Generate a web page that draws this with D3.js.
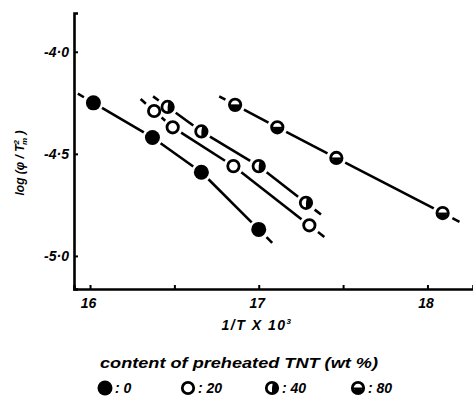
<!DOCTYPE html>
<html>
<head>
<meta charset="utf-8">
<script src="https://cdn.jsdelivr.net/npm/d3@7"></script>
<style>
body{margin:0;background:#fff;}
text{font-family:"Liberation Sans",Arial,sans-serif;font-style:italic;font-weight:bold;fill:#000;}
</style>
</head>
<body>
<div id="chart"></div>
<script>
// data
var tntContent=["0","20","40","80"];
var invT0=[16.02,16.37,16.66,17.0];
var logPhi0=[-4.25,-4.42,-4.59,-4.87];
var invT20=[16.38,16.49,16.85,17.30];
var logPhi20=[-4.29,-4.37,-4.56,-4.85];
var invT40=[16.46,16.66,17.0,17.28];
var logPhi40=[-4.27,-4.39,-4.56,-4.74];
var invT80=[16.86,17.11,17.46,18.09];
var logPhi80=[-4.26,-4.37,-4.52,-4.79];
var xTicks=[16,16.5,17,17.5,18];
var yTicks=[-4.0,-4.5,-5.0];

var svgWidth=473, svgHeight=397;
var margin={top:13,right:0,bottom:108,left:74};
var chartWidth=svgWidth-margin.left-margin.right;
var chartHeight=svgHeight-margin.top-margin.bottom;

var svg=d3.select("#chart").append("svg")
  .attr("width",svgWidth).attr("height",svgHeight);
var g=svg.append("g").attr("transform",`translate(${margin.left},${margin.top})`);

var x=d3.scaleLinear().domain([15.905,18.27]).range([0,chartWidth]);
var y=d3.scaleLinear().domain([-5.162,-3.81]).range([chartHeight,0]);

// axes
var xAxis=g.append("g").attr("transform",`translate(0,${chartHeight})`)
  .call(d3.axisBottom(x).tickValues(xTicks).tickSize(-4).tickPadding(9)
    .tickFormat(d=>Number.isInteger(d)?d:""));
var yAxis=g.append("g")
  .call(d3.axisLeft(y).tickValues(yTicks).tickSize(-4).tickPadding(5)
    .tickFormat(d=>"-"+Math.abs(d).toFixed(1).replace(".","\u00b7")));
[xAxis,yAxis].forEach(function(a){
  a.select(".domain").attr("stroke","#000").attr("stroke-width",2.6);
  a.selectAll(".tick line").attr("stroke","#000").attr("stroke-width",2);
  a.selectAll("text").attr("font-size",14).style("font-family",null);
});
xAxis.selectAll(".tick text").attr("dx",-2);

// series
var series=[
  {x:invT0,y:logPhi0,type:"filled"},
  {x:invT20,y:logPhi20,type:"open"},
  {x:invT40,y:logPhi40,type:"halfR"},
  {x:invT80,y:logPhi80,type:"halfB"}
];
var R=7;

function seg(p,q,a,b){
  var dx=q[0]-p[0], dy=q[1]-p[1], L=Math.hypot(dx,dy), ux=dx/L, uy=dy/L;
  return [p[0]+ux*a,p[1]+uy*a,p[0]+ux*b,p[1]+uy*b];
}

series.forEach(function(s){
  var pts=s.x.map((v,i)=>[x(v),y(s.y[i])]);
  var segs=[];
  for(var i=0;i<pts.length-1;i++){
    var L=Math.hypot(pts[i+1][0]-pts[i][0],pts[i+1][1]-pts[i][1]);
    segs.push(seg(pts[i],pts[i+1],R+3,L-R-3));
  }
  // short dashed extensions at the ends
  segs.push(seg(pts[0],pts[1],-(R+4),-(R+11)));
  var n=pts.length-1;
  segs.push(seg(pts[n],pts[n-1],-(R+4),-(R+12)));
  g.append("g").selectAll("line").data(segs).enter().append("line")
    .attr("x1",d=>d[0]).attr("y1",d=>d[1]).attr("x2",d=>d[2]).attr("y2",d=>d[3])
    .attr("stroke","#000").attr("stroke-width",2.6).attr("stroke-linecap","butt");
  pts.forEach(function(p){ drawMarker(g,p[0],p[1],s.type); });
});

function drawMarker(sel,cx,cy,type){
  var m=sel.append("g").attr("transform",`translate(${cx},${cy})`);
  if(type==="filled"){
    m.append("circle").attr("r",R+0.5).attr("fill","#000");
    return;
  }
  m.append("circle").attr("r",R-1.3).attr("fill","#fff").attr("stroke","#000").attr("stroke-width",2.8);
  if(type==="halfR"){
    m.append("path").attr("d",d3.arc()({innerRadius:0,outerRadius:R-1.3,startAngle:0.15,endAngle:Math.PI}))
      .attr("fill","#000");
  }
  if(type==="halfB"){
    m.append("path").attr("d",d3.arc()({innerRadius:0,outerRadius:R-1.3,startAngle:Math.PI/2+0.35,endAngle:3*Math.PI/2-0.35}))
      .attr("fill","#000");
    m.append("rect").attr("x",-(R-1.5)).attr("y",-0.5).attr("width",2*(R-1.5)).attr("height",2).attr("fill","#000");
  }
}

// axis titles
var xl=svg.append("text").attr("x",257).attr("y",330).attr("text-anchor","middle")
  .attr("font-size",14).attr("letter-spacing",1.5);
xl.append("tspan").text("1/T  X  10");
xl.append("tspan").attr("font-size",8).attr("dy",-6).text("3");
var yl=svg.append("text").attr("transform","translate(24,163) rotate(-90)")
  .attr("text-anchor","middle").attr("font-size",12);
yl.append("tspan").text("log (\u03c6 / T");
yl.append("tspan").attr("font-size",8).attr("dy",-5).text("2");
yl.append("tspan").attr("font-size",8).attr("dy",8).attr("dx",-5).text("m");
yl.append("tspan").attr("dy",-3).text(" )");

// legend
svg.append("text").attr("x",100).attr("y",368).attr("font-size",14)
  .attr("textLength",278).attr("lengthAdjust","spacingAndGlyphs")
  .text("content of preheated  TNT  (wt %)");
var legendX=[105,188,272,358];
var legendTypes=["filled","open","halfR","halfB"];
tntContent.forEach(function(c,i){
  drawMarker(svg,legendX[i],388,legendTypes[i]);
  svg.append("text").attr("x",legendX[i]+10).attr("y",393).attr("font-size",14)
    .text(":  "+c);
});
</script>
</body>
</html>
